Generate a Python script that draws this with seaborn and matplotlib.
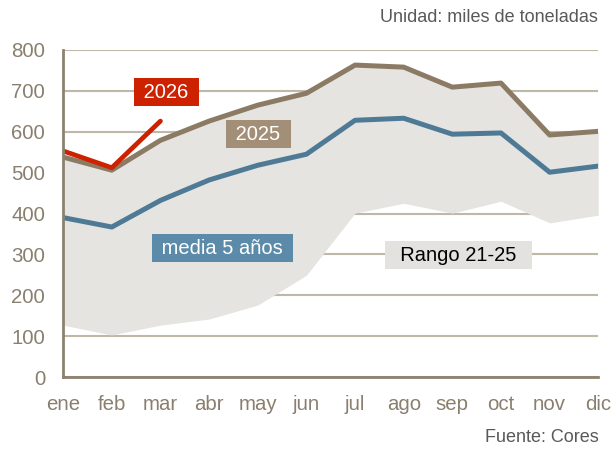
import seaborn as sns
import matplotlib.pyplot as plt
import pandas as pd

meses = ["ene", "feb", "mar", "abr", "may", "jun", "jul", "ago", "sep", "oct", "nov", "dic"]
rango_min = [127, 103, 127, 142, 176, 249, 401, 425, 401, 430, 377, 396]
rango_max = [540, 506, 579, 626, 665, 694, 763, 758, 709, 719, 592, 601]
media_5 = [390, 367, 432, 482, 518, 545, 628, 633, 594, 597, 501, 516]
y2025 = [538, 506, 579, 626, 665, 694, 763, 758, 709, 719, 592, 601]
y2026 = [553, 512, 626]

sns.set_style("white")
plt.rcParams["font.family"] = ["Liberation Sans", "DejaVu Sans"]

gris_txt = "#8A7F6E"
fig = plt.figure(figsize=(6.13, 4.5), dpi=100)
ax = fig.add_axes([0.103, 0.162, 0.873, 0.727])

x = list(range(len(meses)))
ax.fill_between(x, rango_min, rango_max, color="#E6E4E0", lw=0, zorder=1)

df = pd.DataFrame({"x": x, "media": media_5, "y2025": y2025})
df26 = pd.DataFrame({"x": x[:len(y2026)], "y2026": y2026})
sns.lineplot(data=df, x="x", y="media", ax=ax, color="#4E7A96", lw=3.6, zorder=3)
sns.lineplot(data=df, x="x", y="y2025", ax=ax, color="#8C7B64", lw=3.6, zorder=3)
sns.lineplot(data=df26, x="x", y="y2026", ax=ax, color="#CC2200", lw=3.4, zorder=4,
             solid_capstyle="round")

ax.set_xlim(0, 11)
ax.set_ylim(0, 800)
ax.set_yticks(range(0, 801, 100))
ax.set_xticks(x)
ax.set_xticklabels(meses)
ax.set_xlabel("")
ax.set_ylabel("")
ax.yaxis.grid(True, color="#BFB8A8", lw=1.5, zorder=0)
ax.set_axisbelow(True)
ax.tick_params(axis="both", length=0, labelsize=14.7, colors=gris_txt)
ax.tick_params(axis="x", pad=13)
ax.tick_params(axis="y", pad=13)
for s in ["top", "right"]:
    ax.spines[s].set_visible(False)
for s in ["left", "bottom"]:
    ax.spines[s].set_color("#8C8270")
    ax.spines[s].set_linewidth(2)
    ax.spines[s].set_zorder(5)

def etiqueta(xv, yv, txt, fondo, col="white", esp=" "):
    ax.text(xv, yv, esp + txt + esp, ha="center", va="center", fontsize=14.5, color=col, zorder=6,
            bbox=dict(boxstyle="square,pad=0.22", fc=fondo, ec="none"))

etiqueta(2.12, 697, "2026", "#CC2200")
etiqueta(4.01, 594, "2025", "#A38F77")
etiqueta(3.27, 315, "media 5 años", "#5B8BA8")
etiqueta(8.13, 298, "Rango 21-25", "#E4E2DE", col="black", esp="  ")

fig.text(0.976, 0.96, "Unidad: miles de toneladas", ha="right", va="center", fontsize=13, color="#595959")
fig.text(0.976, 0.027, "Fuente: Cores", ha="right", va="center", fontsize=13, color="#595959")

fig.savefig("out.png", dpi=100)
